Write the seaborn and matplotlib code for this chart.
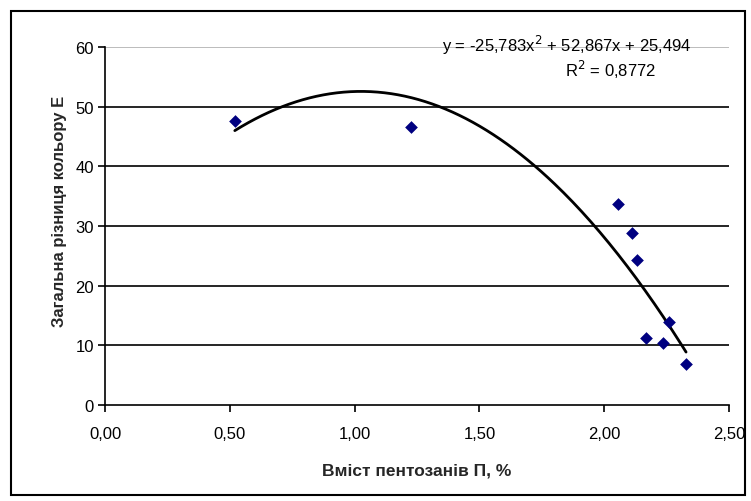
import numpy as np
import pandas as pd
import seaborn as sns
import matplotlib
matplotlib.use("Agg")
import matplotlib.pyplot as plt
from matplotlib.patches import Rectangle
from matplotlib.ticker import FuncFormatter

# Data
pentosans = [0.52, 1.226, 2.056, 2.111, 2.133, 2.258, 2.166, 2.237, 2.328]
color_diff = [47.6, 46.7, 33.7, 28.8, 24.3, 13.9, 11.25, 10.4, 6.9]
# Trend line coefficients (as printed on the chart)
coef = [-25.783, 52.867, 25.494]
r2 = 0.8772
xticks = [0.0, 0.5, 1.0, 1.5, 2.0, 2.5]
yticks = [0, 10, 20, 30, 40, 50, 60]

sns.set_theme(style="white")
plt.rcParams['font.family'] = ['Liberation Sans', 'DejaVu Sans']

fig = plt.figure(figsize=(7.51, 5.02), dpi=100)
ax = fig.add_axes([105/751, 1-405.7/502, (729-105)/751, (405.7-48.3)/502])

df = pd.DataFrame({"x": pentosans, "y": color_diff})
xs = np.linspace(min(pentosans), max(pentosans), 200)
trend = pd.DataFrame({"x": xs, "y": np.polyval(coef, xs)})

# gridlines
for yv in yticks[1:]:
    ax.axhline(yv, color="black" if yv < 60 else "#b0b0b0", lw=1.2, zorder=0)

sns.lineplot(data=trend, x="x", y="y", ax=ax, color="black", lw=2.0, zorder=2)
sns.scatterplot(data=df, x="x", y="y", ax=ax, marker="D", color="#000080",
                s=42, linewidth=0, zorder=3)

ax.set_xlim(0, 2.5)
ax.set_ylim(0, 60)
ax.set_xticks(xticks)
ax.set_yticks(yticks)
ax.xaxis.set_major_formatter(FuncFormatter(lambda v, p: f"{v:.2f}".replace(".", ",")))
ax.yaxis.set_major_formatter(FuncFormatter(lambda v, p: f"{int(v)}"))
ax.tick_params(axis="both", direction="out", length=5, width=1.2, colors="black",
               labelsize=12, bottom=True, left=True)
ax.tick_params(axis="x", pad=10)
ax.tick_params(axis="y", pad=3)
for s in ["left", "bottom"]:
    ax.spines[s].set_color("black")
    ax.spines[s].set_linewidth(1.2)
ax.spines["right"].set_visible(False)
ax.spines["top"].set_visible(False)

ax.set_xlabel("Вміст пентозанів П, %", fontsize=12.5, fontweight="bold", labelpad=16)
ax.set_ylabel("Загальна різниця кольору Е", fontsize=12, fontweight="bold")
ax.yaxis.set_label_coords(-(105 - 67) / 624, 0.545)

eq = (r"y = -25,783x$^{2}$ + 52,867x + 25,494")
ax.text(567/751, 1-45/502, eq, transform=fig.transFigure, ha="center", va="center",
        fontsize=12, color="black")
ax.text(610/751, 1-70/502, r"R$^{2}$ = " + f"{r2}".replace(".", ","),
        transform=fig.transFigure, ha="center", va="center", fontsize=12, color="black")

fig.patches.append(Rectangle((11/751, 1-496/502), (745-11)/751, (496-12)/502,
                             transform=fig.transFigure, fill=False, ec="black", lw=1.5))

fig.savefig("out.png", dpi=100, facecolor="white")
